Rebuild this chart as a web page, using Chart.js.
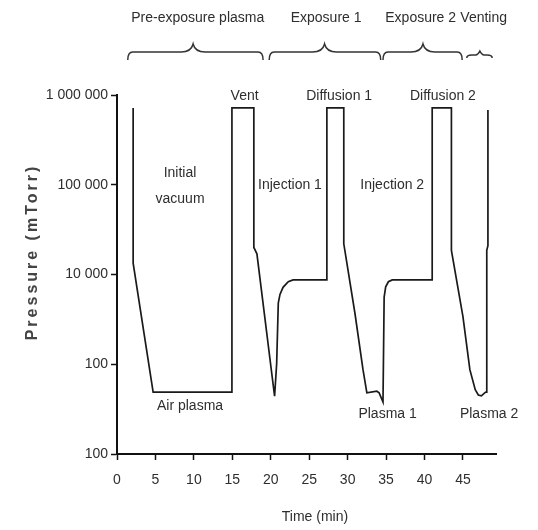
<!DOCTYPE html>
<html>
<head>
<meta charset="utf-8">
<script src="https://cdn.jsdelivr.net/npm/chart.js"></script>
<style>
  body { margin: 0; background: #fff; }
</style>
</head>
<body>
<canvas id="pressure" width="538" height="530"></canvas>
<script>
// pressure trace (time in min, pressure in mTorr)
const timeMin = [2.1, 2.1, 4.7, 14.95, 14.95, 17.8, 17.8, 18.2, 20.5, 20.77, 20.98, 21.2, 21.6, 22.28, 22.9,
  27.3, 27.3, 29.5, 29.5, 30.95, 32.0, 32.5, 33.8, 34.1, 34.6, 34.75, 34.95, 35.3, 35.8,
  41.0, 41.0, 43.5, 43.5, 45.0, 45.9, 46.6, 47.0, 47.4, 47.9, 48.0, 48.1, 48.25, 48.25];
const pressure = [717000, 13400, 490, 490, 717000, 717000, 20000, 17000, 440, 1020, 4800, 6000, 7200, 8300, 8700,
  8700, 717000, 717000, 22000, 3700, 870, 480, 500, 480, 380, 5600, 7300, 8300, 8700,
  8700, 717000, 717000, 18600, 3400, 870, 520, 455, 445, 485, 490, 18600, 21000, 681000];

const xTicks = [0, 5, 10, 15, 20, 25, 30, 35, 40, 45];
const yTicks = [100, 1000, 10000, 100000, 1000000];
const yTickLabels = ["100", "100", "10 000", "100 000", "1 000 000"];

// phases shown with braces above the plot
const phaseNames = ["Pre-exposure plasma", "Exposure 1", "Exposure 2", "Venting"];
const phaseStart = [1.4, 19.8, 34.6, 45.5];
const phaseEnd = [19.0, 34.3, 44.9, 48.8];
const phaseTip = [9.9, 27.0, 39.8, 47.2];
const phaseLabelAt = [10.5, 27.2, 39.5, 47.7];

// step labels inside the plot
const stepNames = ["Vent", "Initial", "vacuum", "Injection 1", "Diffusion 1", "Injection 2", "Diffusion 2", "Air plasma", "Plasma 1", "Plasma 2"];
const stepTime = [16.6, 8.2, 8.2, 22.5, 28.9, 35.8, 42.4, 9.5, 35.2, 48.4];
const stepPressure = [960000, 135000, 70000, 98000, 980000, 98000, 980000, 340, 280, 280];

const fontFamily = "'Liberation Sans', Arial, sans-serif";
const textColor = "#2e2e2e";

function brace(ctx, x1, x2, xm, small) {
  const yEnd = small ? 58 : 60, yBar = small ? 55 : 52, yTip = small ? 51 : 44;
  const w = small ? 4 : 12;
  ctx.beginPath();
  ctx.moveTo(x1, yEnd);
  ctx.quadraticCurveTo(x1, yBar, x1 + 5, yBar);
  ctx.lineTo(xm - w, yBar);
  ctx.quadraticCurveTo(xm - 2, yBar, xm, yTip);
  ctx.quadraticCurveTo(xm + 2, yBar, xm + w, yBar);
  ctx.lineTo(x2 - 5, yBar);
  ctx.quadraticCurveTo(x2, yBar, x2, yEnd);
  ctx.stroke();
}

const annotate = {
  id: "annotate",
  afterDraw(chart) {
    const ctx = chart.ctx;
    const xs = chart.scales.x, ys = chart.scales.y;
    ctx.save();
    ctx.fillStyle = textColor;
    ctx.strokeStyle = "#333";
    ctx.lineWidth = 1.5;
    ctx.font = "14px " + fontFamily;
    ctx.textAlign = "center";
    ctx.textBaseline = "middle";

    phaseNames.forEach((name, i) => {
      brace(ctx, xs.getPixelForValue(phaseStart[i]), xs.getPixelForValue(phaseEnd[i]),
        xs.getPixelForValue(phaseTip[i]), i === 3);
      ctx.fillText(name, xs.getPixelForValue(phaseLabelAt[i]), 18);
    });

    stepNames.forEach((name, i) => {
      ctx.fillText(name, xs.getPixelForValue(stepTime[i]), ys.getPixelForValue(stepPressure[i]));
    });

    // axis titles
    const a = chart.chartArea;
    ctx.fillText("Time (min)", a.left + 198, 517);
    ctx.translate(33, 252);
    ctx.rotate(-Math.PI / 2);
    ctx.font = "bold 16px " + fontFamily;
    ctx.fillStyle = "#444";
    ctx.letterSpacing = "3px";
    ctx.fillText("Pressure (mTorr)", 0, 0);
    ctx.restore();
  }
};

new Chart(document.getElementById("pressure"), {
  type: "line",
  data: {
    datasets: [{
      data: timeMin.map((t, i) => ({ x: t, y: pressure[i] })),
      borderColor: "#1a1a1a",
      borderWidth: 1.7,
      pointRadius: 0,
      tension: 0,
      fill: false
    }]
  },
  options: {
    responsive: false,
    animation: false,
    layout: { padding: { top: 95, right: 42, left: 0, bottom: 0 } },
    plugins: { legend: { display: false }, tooltip: { enabled: false } },
    scales: {
      x: {
        type: "linear",
        min: 0,
        max: 49.3,
        afterBuildTicks: (s) => { s.ticks = xTicks.map((v) => ({ value: v })); },
        afterFit: (s) => { s.height = 76; },
        border: { color: "#111", width: 2 },
        grid: { drawOnChartArea: false, tickLength: 6, tickColor: "#111", tickWidth: 1.5 },
        ticks: { color: textColor, font: { family: fontFamily, size: 14 }, padding: 12, maxRotation: 0, autoSkip: false }
      },
      y: {
        type: "logarithmic",
        min: 100,
        max: 1000000,
        afterBuildTicks: (s) => { s.ticks = yTicks.map((v) => ({ value: v })); },
        afterFit: (s) => { s.width = 117; },
        border: { color: "#111", width: 2 },
        grid: { drawOnChartArea: false, tickLength: 6, tickColor: "#111", tickWidth: 1.5 },
        ticks: {
          color: textColor,
          font: { family: fontFamily, size: 14 },
          padding: 3,
          autoSkip: false,
          callback: (v, i) => yTickLabels[i]
        }
      }
    }
  },
  plugins: [annotate]
});
</script>
</body>
</html>
